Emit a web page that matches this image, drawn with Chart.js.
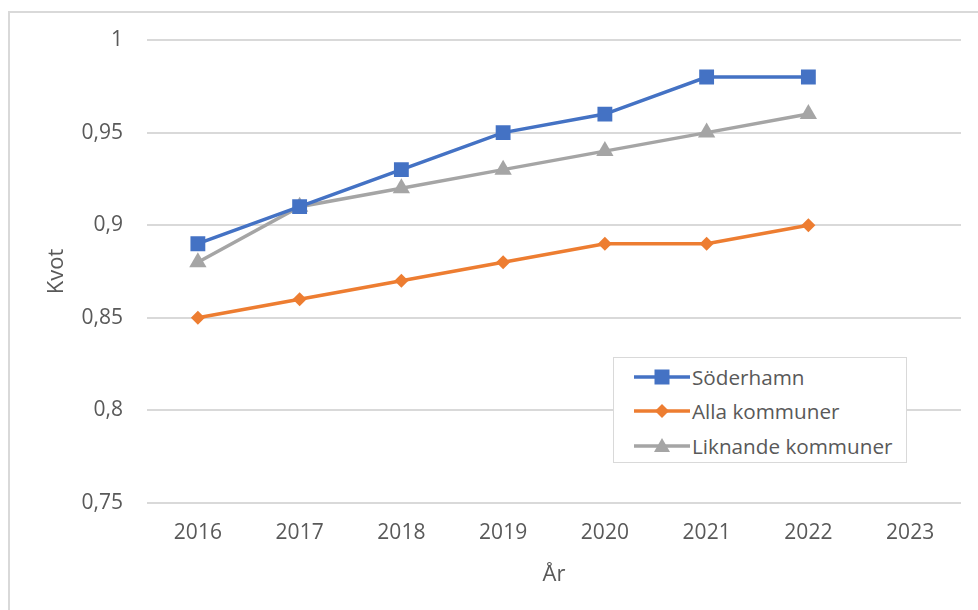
<!DOCTYPE html>
<html>
<head>
<meta charset="utf-8">
<script src="https://cdn.jsdelivr.net/npm/chart.js@4/dist/chart.umd.min.js"></script>
<style>
  html, body { margin: 0; padding: 0; background: #fff; overflow: hidden; }
  #frame { position: absolute; left: 8px; top: 11px; width: 1100px; height: 800px; border: 2px solid #d9d9d9; box-sizing: border-box; }
  #wrap { position: absolute; left: 0; top: 0; width: 978px; height: 610px; }
  #legend { position: absolute; left: 613px; top: 357px; width: 294px; height: 106px; box-sizing: border-box;
    border: 1.5px solid #d9d9d9; background: #fff; font-family: "Open Sans", sans-serif; font-size: 20.7px; color: #595959; }
  .item { position: absolute; left: 20px; height: 30px; display: flex; align-items: center; }
  .item svg { width: 56px; height: 24px; margin-right: 2px; }
</style>
</head>
<body>
<div id="frame"></div>
<div id="wrap"><canvas id="c" width="978" height="610"></canvas></div>
<div id="legend"></div>
<script>
const categories = ["2016", "2017", "2018", "2019", "2020", "2021", "2022", "2023"];
const seriesNames = ["Söderhamn", "Alla kommuner", "Liknande kommuner"];
const soderhamn = [0.89, 0.91, 0.93, 0.95, 0.96, 0.98, 0.98, null];
const allaKommuner = [0.85, 0.86, 0.87, 0.88, 0.89, 0.89, 0.90, null];
const liknandeKommuner = [0.88, 0.91, 0.92, 0.93, 0.94, 0.95, 0.96, null];
const yTicks = [0.75, 0.8, 0.85, 0.9, 0.95, 1];
const yTickLabels = ["0,75", "0,8", "0,85", "0,9", "0,95", "1"];
const xTitle = "År";
const yTitle = "Kvot";

const colors = ["#4472C4", "#ED7D31", "#A5A5A5"];
const styles = ["rect", "rectRot", "triangle"];
const radii = [10.5, 7, 10];
const values = [soderhamn, allaKommuner, liknandeKommuner];

const txt = "#595959";
const fontFamily = "'Open Sans', sans-serif";

const datasets = values.map((v, i) => ({
  label: seriesNames[i],
  data: v,
  borderColor: colors[i],
  backgroundColor: colors[i],
  borderWidth: 3.5,
  pointStyle: styles[i],
  pointRadius: radii[i],
  pointHoverRadius: radii[i],
  pointBorderWidth: 0,
  pointBackgroundColor: colors[i],
  tension: 0,
  spanGaps: false
}));
datasets[0].order = 1; datasets[1].order = 3; datasets[2].order = 2;

new Chart(document.getElementById("c"), {
  type: "line",
  data: { labels: categories, datasets },
  options: {
    responsive: false,
    animation: false,
    devicePixelRatio: 1,
    layout: { padding: { left: 0, right: 17, top: 40, bottom: 0 } },
    plugins: { legend: { display: false }, tooltip: { enabled: false } },
    scales: {
      x: {
        offset: true,
        grid: { display: false, drawTicks: false },
        border: { display: false },
        ticks: { color: txt, font: { family: fontFamily, size: 21 }, padding: 17, maxRotation: 0 },
        title: { display: true, text: xTitle, color: txt, font: { family: fontFamily, size: 22 }, padding: 22 },
        afterFit: s => { s.height = 107; }
      },
      y: {
        min: 0.75, max: 1,
        afterBuildTicks: s => { s.ticks = yTicks.map(v => ({ value: v })); },
        grid: { color: "#d9d9d9", lineWidth: 2, drawTicks: false },
        border: { display: false },
        ticks: {
          color: txt, font: { family: fontFamily, size: 21 }, padding: 24,
          callback: v => { const i = yTicks.findIndex(t => Math.abs(t - v) < 1e-9); return i >= 0 ? yTickLabels[i] : ""; }
        },
        title: { display: true, text: yTitle, color: txt, font: { family: fontFamily, size: 22 }, padding: 44 },
        afterFit: s => { s.width = 147; }
      }
    }
  }
});

const lg = document.getElementById("legend");
const rowTops = [4, 38, 73];
seriesNames.forEach((name, i) => {
  const d = document.createElement("div");
  d.className = "item";
  d.style.top = rowTops[i] + "px";
  let marker = "";
  if (styles[i] === "rect") marker = `<rect x="20.5" y="4.5" width="15" height="15" fill="${colors[i]}"/>`;
  else if (styles[i] === "rectRot") marker = `<polygon points="28,5 35,12 28,19 21,12" fill="${colors[i]}"/>`;
  else marker = `<polygon points="28,4 36,18 20,18" fill="${colors[i]}"/>`;
  d.innerHTML = `<svg viewBox="0 0 56 24"><line x1="0" y1="12" x2="56" y2="12" stroke="${colors[i]}" stroke-width="3.5"/>${marker}</svg><span>${name}</span>`;
  lg.appendChild(d);
});
</script>
</body>
</html>
